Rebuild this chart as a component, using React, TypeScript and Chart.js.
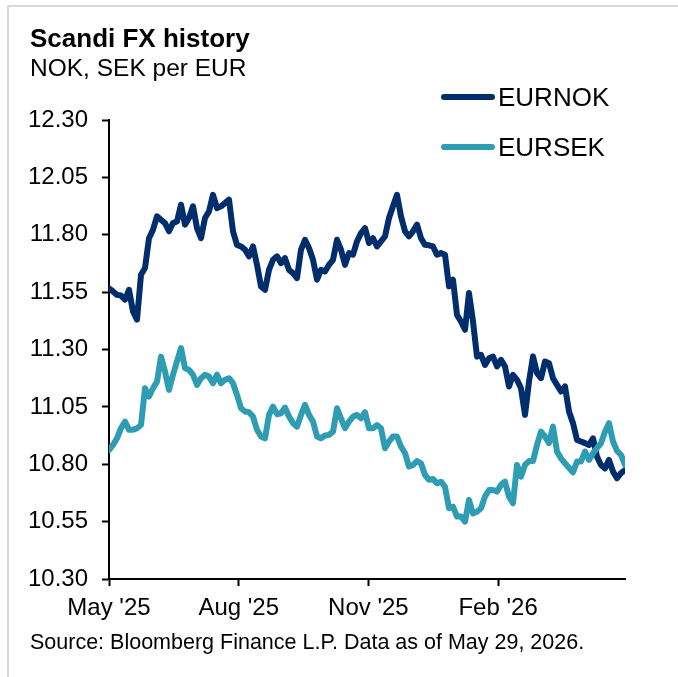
import React, { useEffect, useRef } from "react";
import { Chart, registerables } from "chart.js";

Chart.register(...registerables);

const TITLE = "Scandi FX history";
const SUBTITLE = "NOK, SEK per EUR";
const SOURCE = "Source: Bloomberg Finance L.P. Data as of May 29, 2026.";

const SERIES_NAMES = ["EURNOK", "EURSEK"];
const SERIES_COLORS = ["#002d6b", "#2e9db4"];

const START_DATE = "2025-05-01";
const END_DATE = "2026-05-02";

const X_TICK_DATES = ["2025-05-01", "2025-08-01", "2025-11-01", "2026-02-01"];
const X_TICK_LABELS = ["May '25", "Aug '25", "Nov '25", "Feb '26"];

const Y_MIN = 10.3;
const Y_MAX = 12.3;
const Y_STEP = 0.25;

const EURNOK = [
  11.567, 11.553, 11.538, 11.535, 11.517, 11.56, 11.466, 11.43, 11.626, 11.655,
  11.785, 11.822, 11.88, 11.865, 11.851, 11.815, 11.851, 11.858, 11.931, 11.844,
  11.873, 11.924, 11.829, 11.785, 11.873, 11.902, 11.974, 11.916, 11.924, 11.938,
  11.953, 11.815, 11.756, 11.749,
  11.735, 11.706, 11.749, 11.669, 11.575, 11.56, 11.647, 11.691, 11.706, 11.676,
  11.698, 11.647, 11.633, 11.611, 11.735, 11.778, 11.742, 11.691, 11.604, 11.647,
  11.64, 11.669, 11.691, 11.778, 11.735, 11.669, 11.72, 11.713, 11.771, 11.807,
  11.829, 11.764,
  11.785, 11.749, 11.771, 11.793, 11.873, 11.924, 11.974, 11.88, 11.815, 11.793,
  11.815, 11.844, 11.785, 11.756, 11.754, 11.749, 11.713, 11.72, 11.713, 11.575,
  11.604, 11.451, 11.422, 11.386, 11.546, 11.422, 11.269, 11.277, 11.233, 11.262,
  11.269, 11.226,
  11.255, 11.226, 11.139, 11.19, 11.168, 11.131, 11.015, 11.16, 11.27, 11.197,
  11.175, 11.248, 11.24, 11.175, 11.146, 11.117, 11.139, 11.03, 10.979, 10.906,
  10.899, 10.892, 10.884, 10.913, 10.833, 10.797, 10.782, 10.819, 10.768, 10.739,
  10.761, 10.775,
];

const EURSEK = [
  10.862, 10.884, 10.913, 10.957, 10.986, 10.95, 10.95, 10.957, 10.971, 11.131,
  11.095, 11.131, 11.16, 11.269, 11.204, 11.124, 11.19, 11.248, 11.306, 11.219,
  11.211, 11.19, 11.146, 11.175, 11.19, 11.182, 11.153, 11.19, 11.153, 11.168,
  11.175, 11.153, 11.102, 11.044,
  11.03, 11.027, 11.008, 10.95, 10.921, 10.913, 11.015, 11.051, 11.018, 11.022,
  11.047, 11.008, 10.979, 10.964, 11.015, 11.059, 11.015, 10.986, 10.921, 10.913,
  10.925, 10.928, 10.942, 11.044, 11.0, 10.957, 10.986, 11.008, 11.015, 11.0,
  11.027, 10.957,
  10.957, 10.971, 10.957, 10.87, 10.899, 10.921, 10.921, 10.877, 10.848, 10.79,
  10.797, 10.814, 10.804, 10.753, 10.732, 10.736, 10.717, 10.724, 10.702, 10.608,
  10.615, 10.572, 10.572, 10.55, 10.644, 10.586, 10.593, 10.608, 10.659, 10.688,
  10.688, 10.681,
  10.71, 10.724, 10.659, 10.63, 10.797, 10.746, 10.797, 10.814, 10.814, 10.884,
  10.942, 10.921, 10.892, 10.964, 10.855, 10.826, 10.804, 10.785, 10.765, 10.812,
  10.812, 10.855, 10.819, 10.848, 10.87, 10.892, 10.942, 10.979, 10.899, 10.858,
  10.841, 10.797,
];

const FONT = "'Liberation Sans', Arial, Helvetica, sans-serif";
const DAY = 86400000;
const dayOffset = (d: string) =>
  Math.round((Date.parse(d) - Date.parse(START_DATE)) / DAY);

export default function App() {
  const canvasRef = useRef<HTMLCanvasElement | null>(null);

  useEffect(() => {
    const canvas = canvasRef.current;
    if (!canvas) return;
    const totalDays = dayOffset(END_DATE);
    const toPoints = (arr: number[]) =>
      arr.map((v, i) => ({ x: (i * totalDays) / (arr.length - 1), y: v }));
    const tickDays = X_TICK_DATES.map(dayOffset);

    const lineStyle = {
      borderWidth: 6,
      pointRadius: 0,
      tension: 0,
      borderJoinStyle: "round" as const,
      borderCapStyle: "round" as const,
    };

    const chart = new Chart(canvas, {
      type: "line",
      data: {
        datasets: [
          {
            label: SERIES_NAMES[0],
            data: toPoints(EURNOK),
            borderColor: SERIES_COLORS[0],
            backgroundColor: SERIES_COLORS[0],
            ...lineStyle,
            order: 1,
          },
          {
            label: SERIES_NAMES[1],
            data: toPoints(EURSEK),
            borderColor: SERIES_COLORS[1],
            backgroundColor: SERIES_COLORS[1],
            ...lineStyle,
            order: 0,
          },
        ],
      },
      options: {
        animation: false,
        responsive: false,
        maintainAspectRatio: false,
        layout: { padding: { left: 0, top: 120, right: 53, bottom: 50 } },
        plugins: {
          legend: { display: false },
          tooltip: { enabled: false },
          title: { display: false },
        },
        scales: {
          x: {
            type: "linear",
            min: 0,
            max: totalDays,
            afterFit: (s: any) => {
              s.height = 48;
            },
            afterBuildTicks: (s: any) => {
              s.ticks = tickDays.map((v) => ({ value: v }));
            },
            ticks: {
              autoSkip: false,
              maxRotation: 0,
              minRotation: 0,
              padding: 8,
              color: "#000",
              font: { family: FONT, size: 24 },
              callback: (v: any) => {
                const idx = tickDays.indexOf(Number(v));
                return idx >= 0 ? X_TICK_LABELS[idx] : "";
              },
            },
            grid: {
              display: true,
              drawOnChartArea: false,
              drawTicks: true,
              tickLength: 7,
              tickWidth: 2,
              tickColor: "#000",
            },
            border: { display: true, color: "#000", width: 2 },
          },
          y: {
            type: "linear",
            min: Y_MIN,
            max: Y_MAX,
            afterFit: (s: any) => {
              s.width = 109;
            },
            ticks: {
              stepSize: Y_STEP,
              padding: 14,
              color: "#000",
              font: { family: FONT, size: 24 },
              callback: (v: any) => Number(v).toFixed(2),
            },
            grid: {
              display: true,
              drawOnChartArea: false,
              drawTicks: true,
              tickLength: 7,
              tickWidth: 2,
              tickColor: "#000",
            },
            border: { display: true, color: "#000", width: 2 },
          },
        },
      },
    });
    return () => chart.destroy();
  }, []);

  const textBase: React.CSSProperties = {
    position: "absolute",
    fontFamily: FONT,
    color: "#000",
    lineHeight: 1,
    whiteSpace: "nowrap",
    margin: 0,
  };

  return (
    <div
      style={{
        position: "fixed",
        left: 0,
        top: 0,
        width: 678,
        height: 677,
        background: "#fff",
        overflow: "hidden",
      }}
    >
      <div
        style={{
          position: "absolute",
          left: 7,
          top: 5,
          width: 720,
          height: 720,
          borderLeft: "2px solid #d9d9d9",
          borderTop: "2px solid #d9d9d9",
          boxSizing: "border-box",
        }}
      />
      <canvas
        ref={canvasRef}
        width={678}
        height={677}
        style={{ position: "absolute", left: 0, top: 0, width: 678, height: 677 }}
      />
      <div style={{ ...textBase, left: 30, top: 25, fontSize: 26, fontWeight: 700 }}>
        {TITLE}
      </div>
      <div style={{ ...textBase, left: 30, top: 56, fontSize: 24.5 }}>{SUBTITLE}</div>
      <div style={{ ...textBase, left: 30, top: 632, fontSize: 21.5 }}>{SOURCE}</div>
      {SERIES_NAMES.map((name, i) => (
        <React.Fragment key={name}>
          <div
            style={{
              position: "absolute",
              left: 441,
              top: 94 + i * 50,
              width: 54,
              height: 6,
              borderRadius: 3,
              background: SERIES_COLORS[i],
            }}
          />
          <div style={{ ...textBase, left: 498, top: 84 + i * 50, fontSize: 26 }}>
            {name}
          </div>
        </React.Fragment>
      ))}
    </div>
  );
}
